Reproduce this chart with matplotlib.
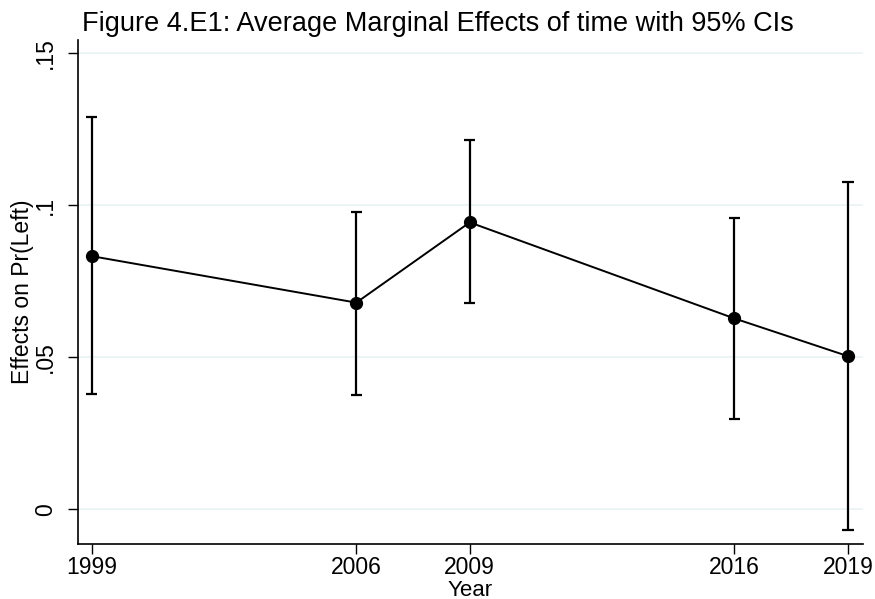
import matplotlib
matplotlib.use("Agg")
import matplotlib.pyplot as plt
from matplotlib.ticker import FixedLocator

plt.rcParams['font.family'] = ['Liberation Sans', 'DejaVu Sans']

years = [1999, 2006, 2009, 2016, 2019]
effects = [0.0833, 0.0680, 0.0944, 0.0628, 0.0504]
ci_low = [0.0379, 0.0376, 0.0678, 0.0297, -0.0067]
ci_high = [0.1290, 0.0979, 0.1214, 0.0959, 0.1078]
ytick_vals = [0, 0.05, 0.1, 0.15]
ytick_labels = ['0', '.05', '.1', '.15']

fig = plt.figure(figsize=(8.75, 5.99), dpi=100)
ax = fig.add_axes([78 / 875, 1 - 544 / 599, (863 - 78) / 875, (544 - 40) / 599])

for y in ytick_vals:
    ax.axhline(y, color='#eaf2f3', linewidth=1.2, zorder=0)

ax.vlines(years, ci_low, ci_high, color='black', linewidth=1.6, zorder=2)
cap = 0.15
ax.hlines(ci_low, [x - cap for x in years], [x + cap for x in years], color='black', linewidth=1.6, zorder=2)
ax.hlines(ci_high, [x - cap for x in years], [x + cap for x in years], color='black', linewidth=1.6, zorder=2)
ax.plot(years, effects, color='black', linewidth=1.4, marker='o', markersize=8.5, zorder=3)

ax.set_xlim(1998.64, 2019.40)
ax.set_ylim(-0.0114, 0.1544)
ax.xaxis.set_major_locator(FixedLocator(years))
ax.set_xticklabels([str(y) for y in years], fontsize=16.5)
ax.set_yticks(ytick_vals)
ax.set_yticklabels(ytick_labels, fontsize=16.5, rotation=90, va='center')
ax.tick_params(direction='out', length=7, width=1)
ax.tick_params(axis='x', pad=2)
ax.tick_params(axis='y', pad=8)

for s in ['top', 'right']:
    ax.spines[s].set_visible(False)
for s in ['left', 'bottom']:
    ax.spines[s].set_linewidth(1.2)

ax.set_xlabel('Year', fontsize=16, labelpad=0)
ax.set_ylabel('Effects on Pr(Left)', fontsize=16.5, labelpad=0)
fig.text(82 / 875, 1 - 31 / 599, 'Figure 4.E1: Average Marginal Effects of time with 95% CIs',
         fontsize=19.5, ha='left', va='baseline')

fig.savefig('out.png', dpi=100, facecolor='white')
